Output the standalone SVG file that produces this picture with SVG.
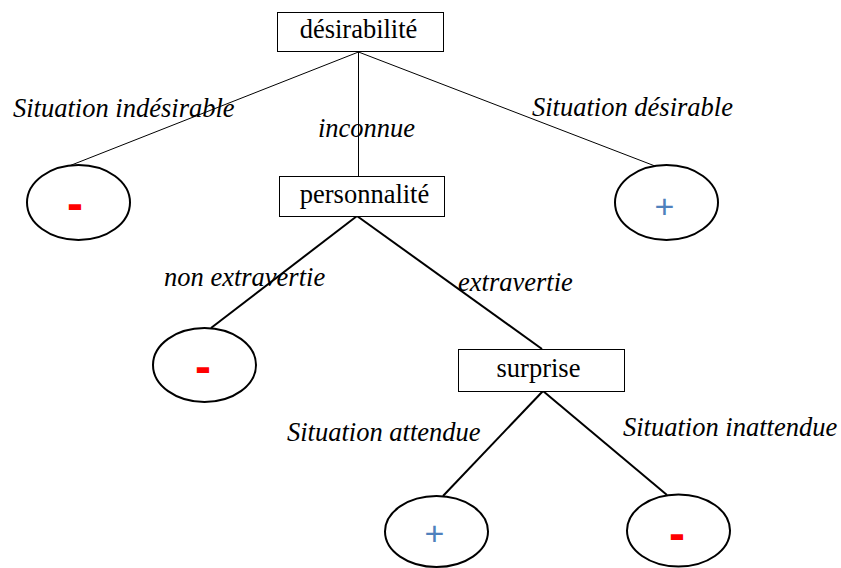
<svg xmlns="http://www.w3.org/2000/svg" width="841" height="568" viewBox="0 0 841 568">
  <style>
    .box { fill: #ffffff; stroke: #000000; stroke-width: 1; }
    .leaf { fill: #ffffff; stroke: #000000; stroke-width: 2; }
    .name { font-family: "Liberation Serif", "Times New Roman", serif; font-size: 26.5px; fill: #000000; text-anchor: middle; }
    .lbl { font-family: "Liberation Serif", "Times New Roman", serif; font-size: 26.5px; font-style: italic; fill: #000000; }
    .neg { font-family: "Liberation Sans", Arial, sans-serif; font-weight: bold; font-size: 48px; fill: #ff0000; text-anchor: middle; }
    .pos { font-family: "Liberation Sans", Arial, sans-serif; font-size: 34px; fill: #4f81bd; text-anchor: middle; }
    .thin { stroke: #000000; stroke-width: 1; fill: none; }
    .thick { stroke: #000000; stroke-width: 2; fill: none; }
  </style>

  <g id="connectors">
    <line class="thin" x1="358.5" y1="52" x2="69" y2="166"/>
    <line class="thin" x1="358.5" y1="52" x2="358.5" y2="176"/>
    <line class="thin" x1="358.5" y1="52" x2="655" y2="166"/>
    <line class="thick" x1="357" y1="216" x2="211" y2="328"/>
    <line class="thick" x1="357" y1="216" x2="542" y2="349"/>
    <line class="thick" x1="543" y1="391" x2="443" y2="496"/>
    <line class="thick" x1="543" y1="391" x2="667" y2="495"/>
  </g>

  <g id="edge-labels">
    <text class="lbl" x="13" y="117">Situation indésirable</text>
    <text class="lbl" x="318" y="137">inconnue</text>
    <text class="lbl" x="532" y="116">Situation désirable</text>
    <text class="lbl" x="164" y="286">non extravertie</text>
    <text class="lbl" x="458" y="291">extravertie</text>
    <text class="lbl" x="287" y="441">Situation attendue</text>
    <text class="lbl" x="623" y="436">Situation inattendue</text>
  </g>

  <g id="desirabilite">
    <rect class="box" x="277.5" y="12.5" width="166" height="39"/>
    <text class="name" x="358.5" y="38">désirabilité</text>
  </g>

  <g id="personnalite">
    <rect class="box" x="279.5" y="176.5" width="165" height="40"/>
    <text class="name" x="364.5" y="203">personnalité</text>
  </g>

  <g id="surprise">
    <rect class="box" x="458.5" y="349.5" width="166" height="42"/>
    <text class="name" x="538.5" y="377">surprise</text>
  </g>

  <g id="leaf-indesirable">
    <ellipse class="leaf" cx="78.5" cy="202.5" rx="51.5" ry="37.5"/>
    <text class="neg" x="75" y="220">-</text>
  </g>

  <g id="leaf-desirable">
    <ellipse class="leaf" cx="666.5" cy="202.5" rx="51.5" ry="37.5"/>
    <text class="pos" x="664.5" y="218">+</text>
  </g>

  <g id="leaf-non-extravertie">
    <ellipse class="leaf" cx="204.5" cy="365" rx="51.5" ry="37"/>
    <text class="neg" x="203" y="383">-</text>
  </g>

  <g id="leaf-attendue">
    <ellipse class="leaf" cx="436.5" cy="531.5" rx="51.5" ry="35.5"/>
    <text class="pos" x="434.5" y="545">+</text>
  </g>

  <g id="leaf-inattendue">
    <ellipse class="leaf" cx="678.5" cy="530.5" rx="51.5" ry="36"/>
    <text class="neg" x="677" y="550">-</text>
  </g>
</svg>
